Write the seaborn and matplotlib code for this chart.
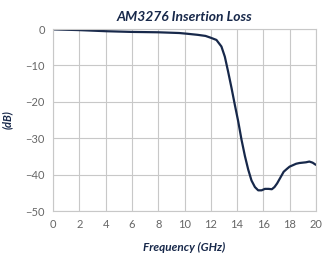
import pandas as pd
import matplotlib.pyplot as plt
import seaborn as sns
import numpy as np

# Insertion loss curve
freq_ghz = [0.0, 2.0, 4.0, 6.0, 8.0, 9.6, 10.2, 11.0, 11.6, 12.0, 12.43, 12.81, 13.07,
            13.32, 13.58, 13.83, 14.09, 14.34, 14.6, 14.85, 15.1, 15.36, 15.61, 15.87,
            16.12, 16.4, 16.65, 16.85, 17.05, 17.3, 17.55, 17.8,
            18.0, 18.25, 18.5, 18.75, 19.0, 19.25, 19.5, 19.75, 20.0]
loss_db = [-0.1, -0.3, -0.6, -0.8, -0.9, -1.1, -1.3, -1.6, -1.9, -2.4, -3.0, -4.8, -7.6,
           -11.7, -16.2, -20.8, -25.4, -30.4, -34.9, -38.6, -41.6, -43.4, -44.3, -44.3,
           -43.9, -43.9, -44.0, -43.4, -42.4, -40.8, -39.2, -38.4,
           -37.8, -37.4, -37.0, -36.8, -36.7, -36.6, -36.4, -36.7, -37.3]

df = pd.DataFrame({"Frequency": freq_ghz, "Loss": loss_db})

sns.set_style("white")
plt.rcParams['font.family'] = ['Lato', 'DejaVu Sans']

navy = "#17284a"
gray_txt = "#666666"

fig = plt.figure(figsize=(3.28, 2.59), dpi=100)
ax = fig.add_axes([0.162, 0.185, 0.801, 0.703])

sns.lineplot(data=df, x="Frequency", y="Loss", color=navy, linewidth=1.6, ax=ax)

ax.set_xlim(0, 20)
ax.set_ylim(-50, 0)
ax.set_xticks(np.arange(0, 21, 2))
ax.set_yticks(np.arange(-50, 1, 10))
ax.grid(True, color="#c8c8c8", linewidth=0.8)
for s in ax.spines.values():
    s.set_color("#c8c8c8")
    s.set_linewidth(0.8)
ax.tick_params(axis="both", labelsize=8, colors=gray_txt, length=3, width=0.8, pad=3)
ax.tick_params(axis="y", color="#c8c8c8")
ax.tick_params(axis="x", color="#c8c8c8")

ax.set_title("AM3276 Insertion Loss", fontsize=10, fontweight="bold", style="italic",
             color=navy, pad=6)
ax.set_xlabel("Frequency (GHz)", fontsize=8.5, fontweight="bold", style="italic",
              color=navy, labelpad=8)
ax.set_ylabel("(dB)", fontsize=8, fontweight="bold", style="italic",
              color=navy, labelpad=9)

fig.savefig("out.png", dpi=100)
